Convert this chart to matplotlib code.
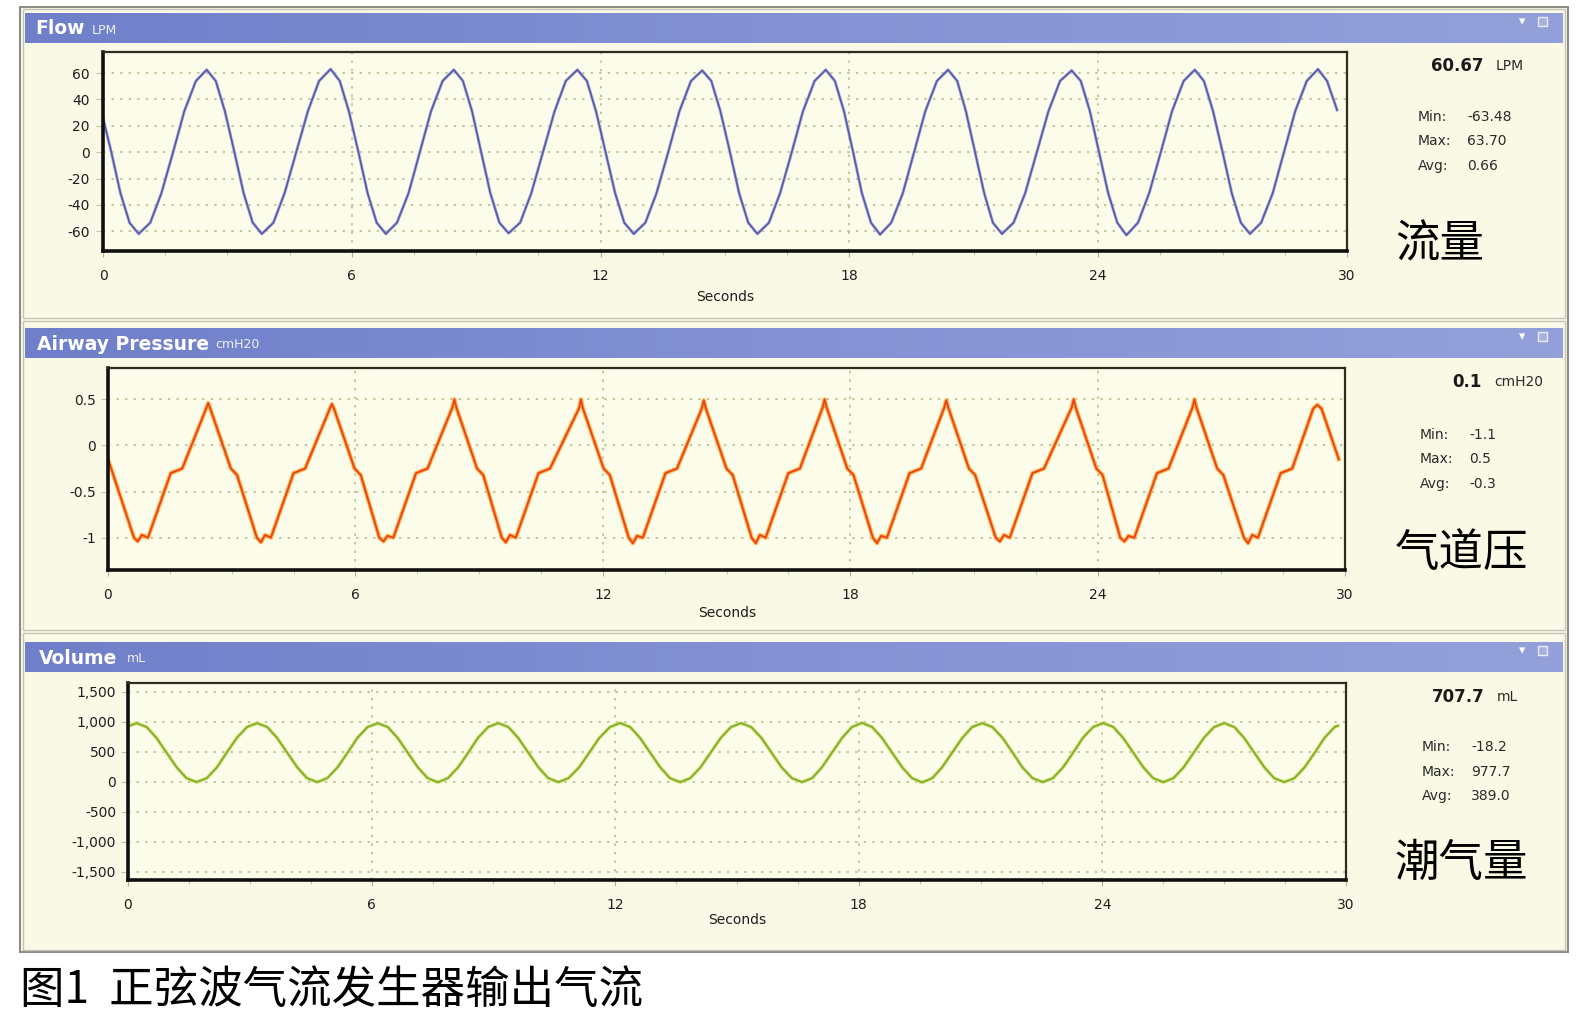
import matplotlib.pyplot as plt
import numpy as np
from matplotlib.patches import Rectangle
from matplotlib.colors import LinearSegmentedColormap

plt.rcParams['font.family'] = ['DejaVu Sans', 'Noto Sans CJK SC']

W, H = 1590, 1030

# ---- data ----
x_ticks = [0, 6, 12, 18, 24, 30]
x_ticklabels = ['0', '6', '12', '18', '24', '30']

# Flow (LPM)
flow_t = [0.00, 0.20, 0.42, 0.64, 0.86,
          1.14, 1.41, 1.69, 1.96, 2.24, 2.50, 2.72, 2.94, 3.17, 3.39, 3.61, 3.83,
          4.11, 4.38, 4.66, 4.94, 5.21, 5.49, 5.71, 5.93, 6.16, 6.38, 6.60, 6.82,
          7.09, 7.37, 7.64, 7.91, 8.19, 8.46, 8.68, 8.90, 9.12, 9.34, 9.56, 9.78,
          10.06, 10.33, 10.61, 10.89, 11.16, 11.44, 11.67, 11.89, 12.12, 12.35, 12.57, 12.80,
          13.08, 13.35, 13.63, 13.90, 14.18, 14.45, 14.67, 14.89, 15.12, 15.34, 15.56, 15.78,
          16.06, 16.33, 16.61, 16.88, 17.16, 17.43, 17.65, 17.87, 18.09, 18.30, 18.52, 18.74,
          19.01, 19.29, 19.56, 19.83, 20.11, 20.38, 20.60, 20.81, 21.03, 21.25, 21.46, 21.68,
          21.96, 22.24, 22.52, 22.80, 23.08, 23.36, 23.58, 23.80, 24.02, 24.24, 24.46, 24.68,
          24.96, 25.23, 25.51, 25.78, 26.06, 26.33, 26.55, 26.77, 27.00, 27.22, 27.44, 27.66,
          27.93, 28.21, 28.48, 28.75, 29.03, 29.30, 29.52, 29.76]
flow_v = [26, 0, -31, -53.5, -62,
          -53.5, -31, 0, 31, 54, 62.5, 54, 31, 0, -31, -53.5, -62,
          -53.5, -31, 0, 31, 54, 63, 54, 31, 0, -31, -53.5, -62,
          -53.5, -31, 0, 31, 54, 62.5, 54, 31, 0, -31, -53.5, -61.5,
          -53.5, -31, 0, 31, 54, 62.5, 54, 31, 0, -31, -53.5, -62,
          -53.5, -31, 0, 31, 54, 62, 54, 31, 0, -31, -53.5, -62,
          -53.5, -31, 0, 31, 54, 62.5, 54, 31, 0, -31, -53.5, -62.5,
          -53.5, -31, 0, 31, 54, 62.5, 54, 31, 0, -31, -53.5, -62,
          -53.5, -31, 0, 31, 54, 62, 54, 31, 0, -31, -53.5, -63,
          -53.5, -31, 0, 31, 54, 62.5, 54, 31, 0, -31, -53.5, -62,
          -53.5, -31, 0, 31, 54, 63, 54, 32]
flow_yticks = [60, 40, 20, 0, -20, -40, -60]
flow_ylabels = ['60', '40', '20', '0', '-20', '-40', '-60']
flow_stats = ['60.67', 'LPM', '-63.48', '63.70', '0.66']

# Airway pressure (cmH20)
pres_t = [0.00, 0.10, 0.35, 0.63,
          0.72, 0.82, 0.97, 1.52, 1.80, 2.38, 2.43, 2.48, 2.98, 3.13, 3.61,
          3.71, 3.81, 3.95, 4.50, 4.78, 5.38, 5.43, 5.48, 5.98, 6.13, 6.58,
          6.68, 6.78, 6.92, 7.47, 7.75, 8.35, 8.40, 8.45, 8.95, 9.10, 9.55,
          9.65, 9.75, 9.89, 10.44, 10.72, 11.42, 11.47, 11.52, 12.02, 12.17, 12.63,
          12.73, 12.83, 12.97, 13.52, 13.80, 14.40, 14.45, 14.50, 15.00, 15.15, 15.61,
          15.71, 15.81, 15.95, 16.50, 16.78, 17.33, 17.38, 17.43, 17.93, 18.08, 18.55,
          18.65, 18.75, 18.89, 19.44, 19.72, 20.28, 20.33, 20.38, 20.88, 21.03, 21.53,
          21.63, 21.73, 21.87, 22.42, 22.70, 23.37, 23.42, 23.47, 23.97, 24.12, 24.55,
          24.65, 24.75, 24.89, 25.44, 25.72, 26.30, 26.35, 26.40, 26.90, 27.05, 27.55,
          27.65, 27.75, 27.89, 28.44, 28.72, 29.23, 29.33, 29.43, 29.85]
pres_v = [-0.15, -0.28, -0.62, -1.00,
          -1.04, -0.97, -1.00, -0.30, -0.25, 0.40, 0.46, 0.40, -0.25, -0.32, -1.00,
          -1.05, -0.97, -1.00, -0.30, -0.25, 0.40, 0.45, 0.40, -0.25, -0.32, -1.00,
          -1.04, -0.98, -1.00, -0.30, -0.25, 0.41, 0.50, 0.41, -0.25, -0.32, -1.00,
          -1.05, -0.97, -1.00, -0.30, -0.25, 0.40, 0.50, 0.40, -0.25, -0.32, -1.00,
          -1.06, -0.98, -1.00, -0.30, -0.25, 0.40, 0.49, 0.40, -0.25, -0.32, -1.00,
          -1.06, -0.97, -1.00, -0.30, -0.25, 0.41, 0.50, 0.41, -0.25, -0.32, -1.00,
          -1.06, -0.98, -1.00, -0.30, -0.25, 0.41, 0.49, 0.41, -0.25, -0.32, -1.00,
          -1.04, -0.97, -1.00, -0.30, -0.25, 0.41, 0.50, 0.41, -0.25, -0.32, -1.00,
          -1.04, -0.98, -1.00, -0.30, -0.25, 0.41, 0.50, 0.41, -0.25, -0.32, -1.00,
          -1.06, -0.97, -1.00, -0.30, -0.25, 0.40, 0.44, 0.40, -0.15]
pres_yticks = [0.5, 0, -0.5, -1]
pres_ylabels = ['0.5', '0', '-0.5', '-1']
pres_stats = ['0.1', 'cmH20', '-1.1', '0.5', '-0.3']

# Volume (mL)
vol_t = [0.00, 0.21,
         0.46, 0.70, 0.95, 1.20, 1.44, 1.69, 1.94, 2.19, 2.43, 2.68, 2.93, 3.18,
         3.43, 3.67, 3.92, 4.17, 4.41, 4.66, 4.91, 5.16, 5.41, 5.65, 5.90, 6.15,
         6.40, 6.64, 6.89, 7.14, 7.38, 7.63, 7.88, 8.13, 8.38, 8.62, 8.87, 9.12,
         9.37, 9.61, 9.86, 10.11, 10.35, 10.60, 10.85, 11.11, 11.36, 11.61, 11.87, 12.12,
         12.37, 12.61, 12.86, 13.11, 13.35, 13.60, 13.85, 14.10, 14.35, 14.60, 14.85, 15.10,
         15.35, 15.60, 15.85, 16.10, 16.35, 16.60, 16.85, 17.09, 17.34, 17.59, 17.83, 18.08,
         18.33, 18.57, 18.82, 19.07, 19.31, 19.56, 19.81, 20.05, 20.30, 20.55, 20.79, 21.04,
         21.29, 21.54, 21.79, 22.03, 22.28, 22.53, 22.78, 23.03, 23.28, 23.52, 23.77, 24.02,
         24.27, 24.51, 24.76, 25.01, 25.25, 25.50, 25.75, 26.00, 26.25, 26.50, 26.75, 27.00,
         27.25, 27.49, 27.74, 27.99, 28.23, 28.48, 28.73, 28.98, 29.23, 29.47, 29.72, 29.80]
vol_v = [925, 980,
         914, 734, 487, 241, 61, -5, 61, 241, 487, 734, 914, 980,
         914, 734, 487, 241, 61, -5, 61, 241, 487, 734, 914, 978,
         914, 734, 487, 241, 61, -8, 61, 241, 487, 734, 914, 980,
         914, 734, 487, 241, 61, -5, 61, 241, 487, 734, 914, 982,
         914, 734, 487, 241, 61, -6, 61, 241, 487, 734, 914, 980,
         914, 734, 487, 241, 61, -5, 61, 241, 487, 734, 914, 985,
         914, 734, 487, 241, 61, -10, 61, 241, 487, 734, 914, 980,
         914, 734, 487, 241, 61, -5, 61, 241, 487, 734, 914, 982,
         914, 734, 487, 241, 61, -6, 61, 241, 487, 734, 914, 980,
         914, 734, 487, 241, 61, -5, 61, 241, 487, 734, 914, 935]
vol_yticks = [1500, 1000, 500, 0, -500, -1000, -1500]
vol_ylabels = ['1,500', '1,000', '500', '0', '-500', '-1,000', '-1,500']
vol_stats = ['707.7', 'mL', '-18.2', '977.7', '389.0']

stat_names = ['Min:', 'Max:', 'Avg:']
titles = [('Flow', 'LPM'), ('Airway Pressure', 'cmH20'), ('Volume', 'mL')]
cn_labels = ['流量', '气道压', '潮气量']
caption = '图1  正弦波气流发生器输出气流'

# ---- figure ----
fig = plt.figure(figsize=(15.9, 10.3), dpi=100)
fig.patch.set_facecolor('white')
bg = fig.add_axes([0, 0, 1, 1])
bg.axis('off')

panel_bg = '#f9f9e5'
bg.add_patch(Rectangle((20, 7), 1548, 945, fc=panel_bg, ec='#8c8c84', lw=1.5))
for y0, y1 in [(9, 318), (321, 630), (633, 950)]:
    bg.add_patch(Rectangle((23, y0), 1542, y1 - y0, fc=panel_bg, ec='#c4c4b8', lw=1))

hdr_cmap = LinearSegmentedColormap.from_list('hdr', ['#6f7fc9', '#8492d4', '#93a0da'])
grad = np.linspace(0, 1, 256)[None, :]
headers = [(13, 43), (328, 358), (642, 672)]
title_x = [(35, 92), (37, 215), (39, 127)]
for (y0, y1), (t1, t2), (x1, x2) in zip(headers, titles, title_x):
    bg.imshow(grad, cmap=hdr_cmap, extent=(25, 1563, y1, y0), aspect='auto', zorder=2)
    yc = (y0 + y1) / 2
    bg.text(x1, yc + 1, t1, color='white', fontsize=13.5, fontweight='bold',
            va='center', ha='left', zorder=3)
    bg.text(x2, yc + 2, t2, color='#eef0fa', fontsize=9, va='center', ha='left', zorder=3)
    bg.text(1522, yc - 6, '▾', color='white', fontsize=9, va='center', ha='center', zorder=3)
    bg.add_patch(Rectangle((1538, yc - 11), 9, 9, fc='#a8b2e2', ec='#e8ecf8', lw=1, zorder=3))

bg.set_xlim(0, W)
bg.set_ylim(H, 0)

grid_c = '#c4c49a'


def make_axes(px, ylim, yticks, ylabels, ypad):
    x0, y0, x1, y1 = px
    ax = fig.add_axes([x0 / W, 1 - y1 / H, (x1 - x0) / W, (y1 - y0) / H])
    ax.set_facecolor('#fcfcea')
    ax.set_xlim(0, 30)
    ax.set_ylim(*ylim)
    ax.set_xticks(x_ticks)
    ax.set_xticklabels(x_ticklabels)
    ax.set_xticks(np.arange(0, 31, 1.5), minor=True)
    ax.set_yticks(yticks)
    ax.set_yticklabels(ylabels)
    ax.grid(True, which='major', color=grid_c, linestyle=(0, (1.2, 3.2)), lw=1.4)
    ax.tick_params(axis='x', which='major', length=4, color='#b0b0a0', pad=9,
                   labelsize=10, labelcolor='#1e1e1e')
    ax.tick_params(axis='x', which='minor', length=3, color='#b8b8a8')
    ax.tick_params(axis='y', length=5, color=grid_c, pad=ypad,
                   labelsize=10, labelcolor='#1e1e1e')
    for s in ['top', 'right']:
        ax.spines[s].set_color('#2c2c20')
        ax.spines[s].set_linewidth(1.6)
    for s in ['left', 'bottom']:
        ax.spines[s].set_color('#101010')
        ax.spines[s].set_linewidth(2.6)
    return ax


ax1 = make_axes((103, 52, 1347, 251), (-75, 76), flow_yticks, flow_ylabels, 4.5)
ax1.plot(flow_t, flow_v, color='#aeb0da', lw=2.2)
ax1.plot(flow_t, flow_v, color='#575aa8', lw=1.2)

ax2 = make_axes((108, 368, 1345, 570), (-1.35, 0.84), pres_yticks, pres_ylabels, 3.5)
ax2.plot(pres_t, pres_v, color='#ffb347', lw=3.0)
ax2.plot(pres_t, pres_v, color='#e8401c', lw=1.3)

ax3 = make_axes((128, 683, 1346, 880), (-1640, 1650), vol_yticks, vol_ylabels, 3.5)
ax3.plot(vol_t, vol_v, color='#d8e270', lw=2.6)
ax3.plot(vol_t, vol_v, color='#7fae34', lw=1.3)

# x axis titles
for xc, yc in [(725, 297), (727, 613), (737, 920)]:
    bg.text(xc, yc, 'Seconds', fontsize=10, color='#1e1e1e', ha='center', va='center')

# readouts at the right
stat_pos = [(1484, 66, 1418, 1467, [117, 141, 166], 244),
            (1482, 382, 1420, 1469, [435, 459, 484], 553),
            (1485, 697, 1422, 1471, [747, 772, 796], 863)]
for stats, (xr, yb, xl, xv, ys, ycn), cn in zip([flow_stats, pres_stats, vol_stats], stat_pos, cn_labels):
    bg.text(xr, yb, stats[0], fontsize=12, fontweight='bold', color='#1a1a1a',
            ha='right', va='center')
    bg.text(xr + 12, yb, stats[1], fontsize=10, color='#2a2a2a', ha='left', va='center')
    for name, val, yy in zip(stat_names, stats[2:], ys):
        bg.text(xl, yy, name, fontsize=10, color='#2a2a2a', ha='left', va='center')
        bg.text(xv, yy, val, fontsize=10, color='#2a2a2a', ha='left', va='center')
    bg.text(1395, ycn, cn, fontsize=32, color='black', ha='left', va='center',
            family=['Noto Sans CJK SC', 'DejaVu Sans'])

bg.text(20, 990, caption, fontsize=32, color='black', ha='left', va='center',
        family=['Noto Sans CJK SC', 'DejaVu Sans'])

fig.savefig('out.png', dpi=100, facecolor='white')
